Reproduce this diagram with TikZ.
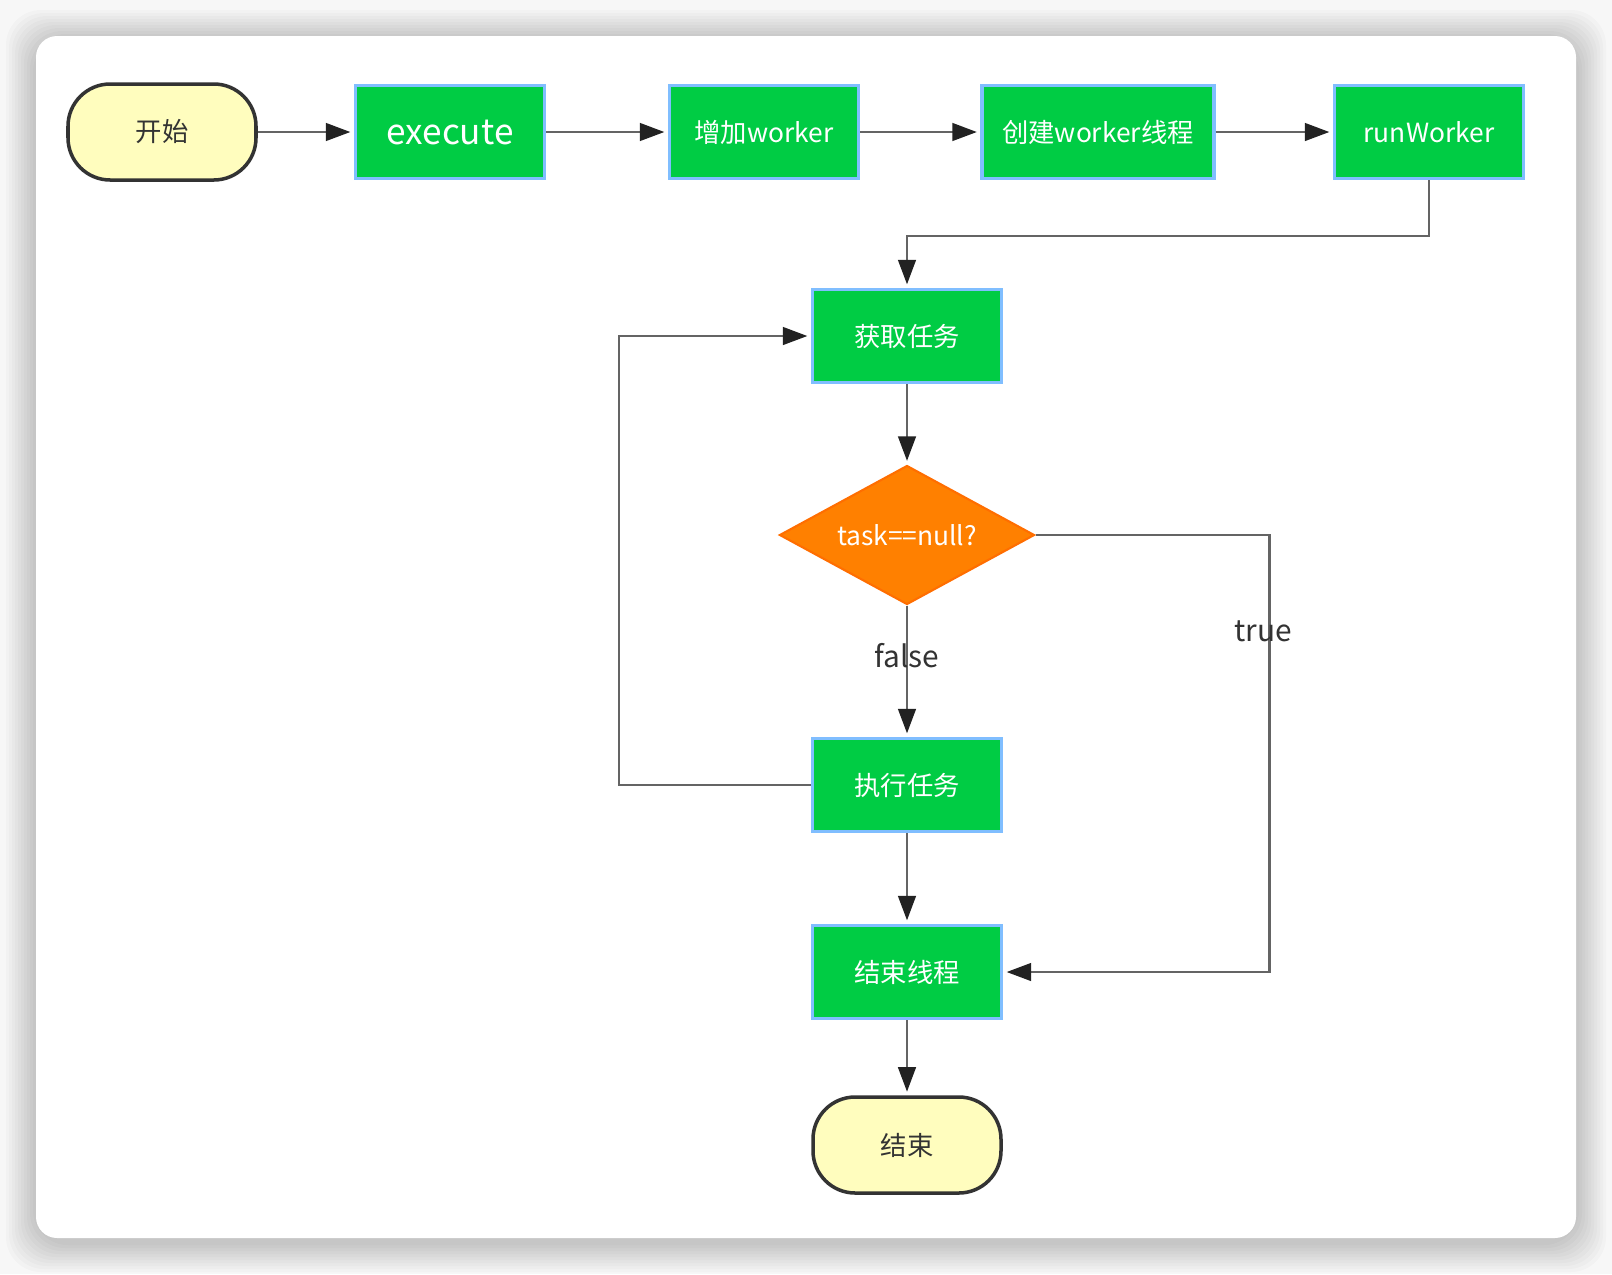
\documentclass[tikz,border=0pt]{standalone}
\usepackage{fontspec}
\newfontfamily\cjk{Noto Sans CJK SC}
\usetikzlibrary{positioning, shapes, arrows.meta}
\definecolor{boxgreen}{RGB}{0,204,68}
\definecolor{boxline}{RGB}{128,190,255}
\definecolor{termfill}{RGB}{255,253,190}
\definecolor{decfill}{RGB}{255,128,0}
\definecolor{decline}{RGB}{255,110,0}
\definecolor{flow}{RGB}{100,100,100}
\definecolor{tip}{RGB}{34,34,34}

\begin{document}
\begin{tikzpicture}[x=0.1mm, y=-0.1mm,
    term/.style={draw=black!80, line width=1pt, fill=termfill, rounded corners=12pt,
        minimum width=1.88cm, minimum height=0.96cm, text=black!80,
        font=\cjk\fontsize{7.5}{9}\selectfont},
    proc/.style={draw=boxline, line width=0.9pt, fill=boxgreen, text=white,
        minimum width=1.89cm, minimum height=0.93cm, font=\cjk\fontsize{7.5}{9}\selectfont},
    decide/.style={diamond, aspect=1.83, draw=decline, line width=0.6pt, fill=decfill,
        text=white, inner sep=0pt, minimum width=2.55cm, minimum height=1.39cm,
        font=\cjk\fontsize{7.5}{9}\selectfont},
    flowline/.style={draw=flow, line width=0.8pt,
        -{Triangle[length=7pt,width=5pt,color=tip]}, shorten >=1pt},
    lbl/.style={text=black!80, font=\cjk\fontsize{8.5}{10}\selectfont}]

    % card with soft shadow
    \fill[black!3] (0,0) rectangle (1612,1274);
    \foreach \d in {30,27,...,3}
        \fill[black, opacity=0.018, rounded corners=10pt] (36-\d,36-\d+4) rectangle (1576+\d,1238+\d+4);
    \fill[white, rounded corners=6pt] (36,36) rectangle (1576,1238);

    \node[term] (start) at (162,132) {开始};
    \node[proc, font=\cjk\fontsize{10}{12}\selectfont] (exe) at (450,132) {execute};
    \node[proc] (addw) at (764,132) {增加worker};
    \node[proc, minimum width=2.32cm] (mkthread) at (1098,132) {创建worker线程};
    \node[proc] (runw) at (1429,132) {runWorker};

    \node[proc] (gettask) at (907,336) {获取任务};
    \node[decide] (isnull) at (907,535) {task==null?};
    \node[proc] (runtask) at (907,785) {执行任务};
    \node[proc] (endthread) at (907,972) {结束线程};
    \node[term] (stop) at (907,1145) {结束};

    \draw[flowline] (start) -- (exe);
    \draw[flowline] (exe) -- (addw);
    \draw[flowline] (addw) -- (mkthread);
    \draw[flowline] (mkthread) -- (runw);
    \draw[flowline] (runw.south) -- ++(0,56) -| (gettask.north);

    \draw[flowline] (gettask) -- (isnull);
    \draw[flowline] (isnull) -- (runtask);
    \draw[flowline] (runtask.west) -- ++(-192,0) |- (gettask.west);
    \draw[flowline] (isnull.east) -- ++(234,0) |- (endthread.east);
    \draw[flowline] (runtask) -- (endthread);
    \draw[flowline] (endthread) -- (stop);

    \node[lbl] (falselbl) at (907,656) {false};
    \node[lbl] (truelbl) at (1263,631) {true};
\end{tikzpicture}
\end{document}
